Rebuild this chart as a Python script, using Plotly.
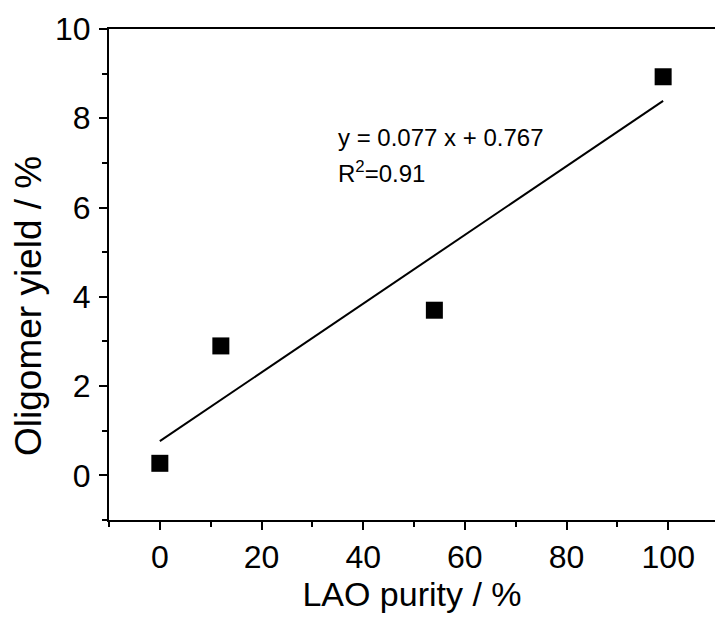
import plotly.graph_objects as go

# Data
lao_purity = [0, 12, 54, 99]
oligomer_yield = [0.27, 2.9, 3.7, 8.93]
fit_slope = 0.077
fit_intercept = 0.767
fit_x = [0, 99]
fit_y = [fit_slope * v + fit_intercept for v in fit_x]
x_ticks = [0, 20, 40, 60, 80, 100]
y_ticks = [0, 2, 4, 6, 8, 10]

FONT = "Liberation Sans, Arial, sans-serif"

fig = go.Figure()
fig.add_trace(go.Scatter(x=fit_x, y=fit_y, mode="lines",
                         line=dict(color="black", width=2), showlegend=False))
fig.add_trace(go.Scatter(x=lao_purity, y=oligomer_yield, mode="markers",
                         marker=dict(symbol="square", size=17, color="black"),
                         showlegend=False))

fig.add_annotation(x=0.374, y=0.780, xref="paper", yref="paper", xanchor="left", yanchor="middle",
                   text="y = 0.077 x + 0.767", showarrow=False,
                   font=dict(family=FONT, size=24, color="black"))
fig.add_annotation(x=0.374, y=0.708, xref="paper", yref="paper", xanchor="left", yanchor="middle",
                   text="R<sup>2</sup>=0.91", showarrow=False,
                   font=dict(family=FONT, size=24, color="black"))

# y-axis title placed as annotation to match its offset position
fig.add_annotation(x=(28 - 109) / 606, y=(520 - 306) / 491, xref="paper", yref="paper",
                   xanchor="center", yanchor="middle", showarrow=False,
                   text="Oligomer yield / %", textangle=-90,
                   font=dict(family=FONT, size=37, color="black"))

fig.update_layout(
    width=715, height=617,
    margin=dict(l=109, r=0, t=29, b=97),
    plot_bgcolor="white", paper_bgcolor="white",
    font=dict(family=FONT, color="black"),
    xaxis=dict(range=[-10, 109.2], tickvals=x_ticks, showgrid=False, zeroline=False,
               showline=True, linecolor="black", linewidth=2, mirror=True,
               ticks="outside", ticklen=8, tickwidth=2, tickcolor="black",
               minor=dict(dtick=10, tick0=0, ticks="outside", ticklen=5, tickwidth=2, tickcolor="black"),
               tickfont=dict(size=32), ticklabelstandoff=0,
               title=dict(text="LAO purity / %", font=dict(size=34), standoff=6)),
    yaxis=dict(range=[-1, 10], tickvals=y_ticks, showgrid=False, zeroline=False,
               showline=True, linecolor="black", linewidth=2,
               ticks="outside", ticklen=8, tickwidth=2, tickcolor="black",
               minor=dict(dtick=1, tick0=0, ticks="outside", ticklen=5, tickwidth=2, tickcolor="black"),
               tickfont=dict(size=32), ticklabelstandoff=2),
)

fig.write_html("out.html")
